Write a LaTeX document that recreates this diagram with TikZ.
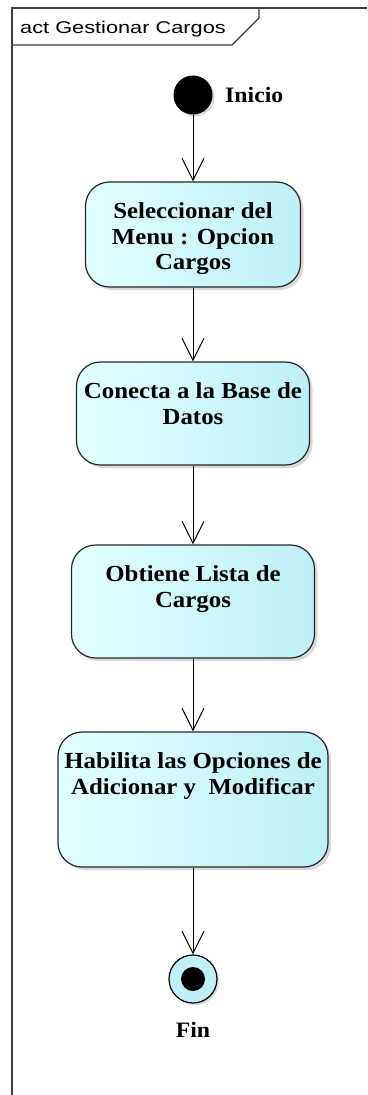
\documentclass[tikz,border=0pt]{standalone}
\usepackage{fontspec}
\setmainfont{Liberation Serif}[FakeStretch=1.08]
\newfontfamily\tabfont{Liberation Sans}[FakeStretch=1.28]
\usetikzlibrary{arrows.meta,shadows}

\definecolor{actlight}{RGB}{226,255,255}
\definecolor{actdark}{RGB}{190,240,245}
\definecolor{framegray}{RGB}{60,60,60}

\newcommand{\acttext}[3]{\parbox[c][#2][t]{#1}{\centering\vspace*{21pt}#3}}

\begin{document}
\begin{tikzpicture}[x=1pt, y=-1pt,
    action/.style={draw=black!85, line width=1.2pt, rounded corners=24pt,
      left color=actlight, right color=actdark, inner sep=0pt,
      font=\fontsize{23}{25.5}\selectfont\bfseries,
      drop shadow={shadow xshift=3pt, shadow yshift=-3pt, opacity=0.3}},
    flow/.style={line width=1pt, -{Straight Barb[length=22pt, width=22pt, line width=1pt]}},
    lbl/.style={font=\fontsize{22}{24}\selectfont\bfseries, inner sep=0pt}]
  \useasboundingbox (0,0) rectangle (367,1095);

  % frame and tab
  \draw[framegray, line width=1.8pt] (367,8) -- (12,8) -- (12,1095);
  \draw[framegray, line width=1.2pt] (12,45) -- (232,45) -- (259,18) -- (259,8);
  \node[anchor=west, inner sep=0pt, font=\tabfont\fontsize{17}{20}\selectfont] (title) at (20,29) {act Gestionar Cargos};

  % start
  \node[circle, fill=black, minimum size=39pt, inner sep=0pt,
    drop shadow={shadow xshift=2pt, shadow yshift=-2pt, opacity=0.3}] (start) at (193,95) {};
  \node[lbl, anchor=west] (inicio) at (225,95) {Inicio};

  % actions
  \node[action] (a1) at (193,234.5) {\acttext{215pt}{105pt}{Seleccionar del\\Menu : Opcion\\Cargos}};
  \node[action] (a2) at (193,413.5) {\acttext{233pt}{103pt}{Conecta a la Base de\\Datos}};
  \node[action] (a3) at (193,601.5) {\acttext{243pt}{113pt}{Obtiene Lista de\\Cargos}};
  \node[action] (a4) at (193,799.5) {\acttext{270pt}{135pt}{Habilita las Opciones de\\Adicionar y~ Modificar}};

  % end
  \node[circle, draw=black, line width=1.2pt, fill=actdark, minimum size=48pt, inner sep=0pt,
    drop shadow={shadow xshift=2pt, shadow yshift=-2pt, opacity=0.3}] (fin) at (193,979) {};
  \node[circle, fill=black, minimum size=24pt, inner sep=0pt] (finin) at (193,979) {};
  \node[lbl] (finlbl) at (193,1030) {Fin};

  \draw[flow] (start) -- (a1);
  \draw[flow] (a1) -- (a2);
  \draw[flow] (a2) -- (a3);
  \draw[flow] (a3) -- (a4);
  \draw[flow] (a4) -- (fin);
\end{tikzpicture}
\end{document}
